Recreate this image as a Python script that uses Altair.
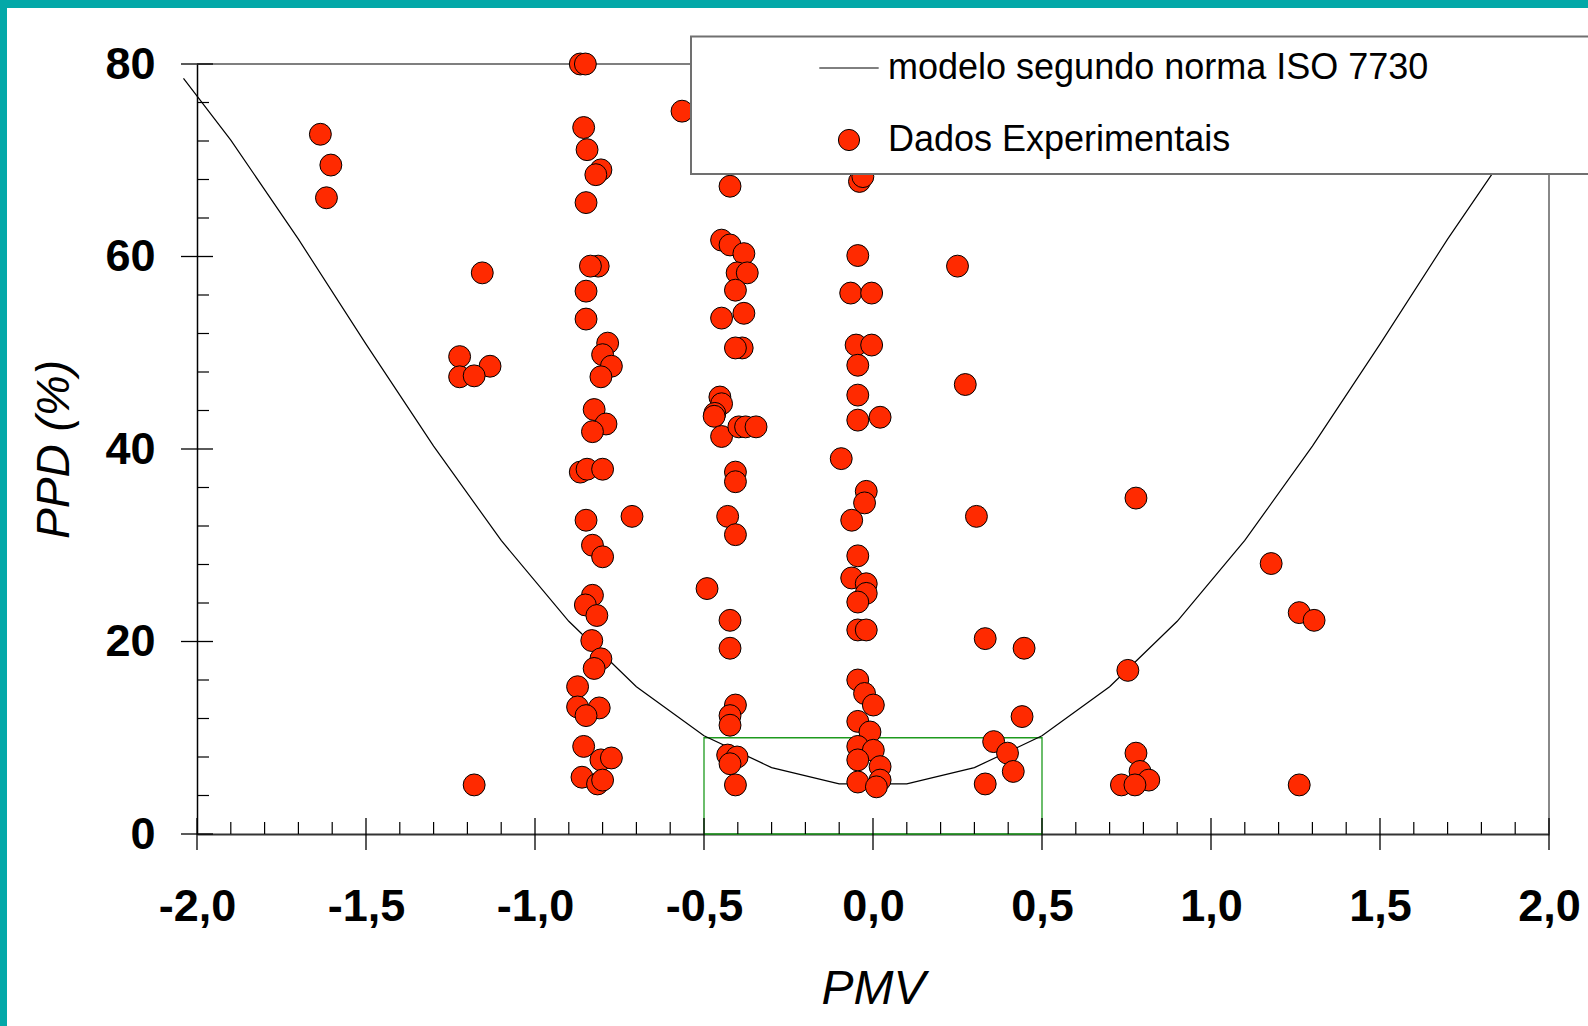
import altair as alt
import pandas as pd

# ---------------- data ----------------
SERIE_MODELO = "modelo segundo norma ISO 7730"
SERIE_DADOS = "Dados Experimentais"

pmv_exp = [
    -1.635, -1.604, -1.617, -1.156, -1.223, -1.133, -1.223, -1.180, -1.180,
    -0.866, -0.851, -0.856, -0.846, -0.805, -0.820, -0.849, -0.813, -0.836,
    -0.849, -0.849, -0.785, -0.800, -0.774, -0.805, -0.825, -0.790, -0.830,
    -0.866, -0.846, -0.800, -0.849, -0.830, -0.800, -0.830, -0.851, -0.817,
    -0.832, -0.805, -0.825, -0.874, -0.874, -0.810, -0.849, -0.856, -0.805,
    -0.774, -0.861, -0.815, -0.800,
    -0.713,
    -0.565, -0.423, -0.448, -0.423, -0.382, -0.402, -0.372, -0.407, -0.448,
    -0.382, -0.387, -0.407, -0.453, -0.448, -0.468, -0.470, -0.448, -0.397,
    -0.377, -0.346, -0.407, -0.407, -0.491, -0.430, -0.407, -0.423, -0.423,
    -0.407, -0.423, -0.423, -0.430, -0.402, -0.423, -0.407,
    -0.040, -0.030, -0.045, -0.066, -0.004, -0.050, -0.004, -0.045, -0.045,
    -0.045, 0.021, -0.094, -0.020, -0.025, -0.063, -0.045, -0.063, -0.020,
    -0.020, -0.045, -0.045, -0.020, -0.045, -0.025, 0.001, -0.045, -0.009,
    -0.045, 0.001, -0.045, 0.021, -0.045, 0.021, 0.010,
    0.250, 0.273, 0.306, 0.332, 0.447, 0.441, 0.357, 0.398, 0.415, 0.332,
    0.778, 1.178, 1.261, 1.305, 0.754, 0.778, 0.790, 0.816, 0.735, 0.775, 1.261,
]
ppd_exp = [
    72.7, 69.5, 66.1, 58.3, 49.6, 48.6, 47.5, 47.6, 5.1,
    80.0, 80.0, 73.4, 71.1, 69.0, 68.5, 65.6, 59.0, 59.0,
    56.4, 53.5, 51.0, 49.8, 48.6, 47.5, 44.1, 42.6, 41.8,
    37.6, 37.9, 37.9, 32.6, 30.0, 28.8, 24.8, 23.8, 22.7,
    20.1, 18.2, 17.2, 15.3, 13.2, 13.1, 12.3, 9.1, 7.7,
    7.9, 5.9, 5.2, 5.6,
    33.0,
    75.1, 67.3, 61.7, 61.2, 60.3, 58.3, 58.3, 56.5, 53.6,
    54.1, 50.5, 50.5, 45.4, 44.7, 43.7, 43.4, 41.3, 42.3,
    42.3, 42.3, 37.6, 36.6, 25.5, 33.0, 31.1, 22.2, 19.3,
    13.4, 12.3, 11.3, 8.2, 8.0, 7.3, 5.1,
    67.8, 68.3, 60.1, 56.2, 56.2, 50.8, 50.8, 48.7, 45.6,
    43.0, 43.3, 39.0, 35.6, 34.4, 32.6, 28.9, 26.6, 26.0,
    25.0, 24.1, 21.2, 21.2, 16.0, 14.6, 13.4, 11.7, 10.6,
    9.1, 8.7, 7.7, 7.0, 5.4, 5.6, 4.9,
    59.0, 46.7, 33.0, 20.3, 19.3, 12.2, 9.6, 8.4, 6.5, 5.2,
    34.9, 28.1, 23.0, 22.2, 17.0, 8.4, 6.5, 5.6, 5.1, 5.1, 5.1,
]

curve_pmv = [-2.04, -1.9, -1.7, -1.5, -1.3, -1.1, -0.9, -0.7, -0.5, -0.3, -0.1,
             0.1, 0.3, 0.5, 0.7, 0.9, 1.1, 1.3, 1.5, 1.7, 1.9, 2.04]
curve_ppd = [78.5, 72.1, 61.8, 50.9, 40.3, 30.5, 22.1, 15.3, 10.2, 6.9, 5.2,
             5.2, 6.9, 10.2, 15.3, 22.1, 30.5, 40.3, 50.9, 61.8, 72.1, 78.5]

zona_pmv = [-0.5, 0.5]
zona_ppd = [0, 10]

x_major = [-2.0, -1.5, -1.0, -0.5, 0.0, 0.5, 1.0, 1.5, 2.0]
x_minor = [round(-2 + 0.1 * i, 1) for i in range(41) if i % 5 != 0]
y_major = [0, 20, 40, 60, 80]
y_minor = [v for v in range(4, 80, 4) if v % 20 != 0]

# ---------------- styling ----------------
W, H = 1352, 770
PAD = {"left": 197, "top": 64, "right": 39, "bottom": 192}
FONT = "Liberation Sans"
RED = "#FF2A00"
TEAL = "#03A8A8"

xs = alt.Scale(domain=[-2, 2], nice=False, zero=False)
ys = alt.Scale(domain=[0, 80], nice=False, zero=False)

x_axis = alt.Axis(
    values=x_major, title="PMV", ticks=False, grid=False,
    domainColor="#333333", domainWidth=2,
    labelFont=FONT, labelFontSize=45, labelFontWeight="bold", labelColor="black",
    labelBaseline="alphabetic", labelPadding=86, labelFlush=False, labelOverlap=False,
    labelExpr="(datum.value < 0 ? '-' : '') + replace(format(abs(datum.value), '.1f'), '.', ',')",
    titleFont=FONT, titleFontSize=48, titleFontStyle="italic", titleFontWeight="normal",
    titleColor="black", titleBaseline="alphabetic", titleY=169,
)
y_axis = alt.Axis(
    values=y_major, title="PPD (%)", ticks=False, grid=False,
    domainColor="black", domainWidth=1.5,
    labelFont=FONT, labelFontSize=45, labelFontWeight="bold", labelColor="black",
    labelPadding=42, labelBaseline="middle", labelFlush=False, labelOverlap=False,
    titleFont=FONT, titleFontSize=46, titleFontStyle="italic", titleFontWeight="normal",
    titleColor="black", titleBaseline="alphabetic", titleX=-129, titleY=385, titleAngle=270,
)


def X(field):
    return alt.X(field, scale=xs, axis=x_axis)


def Y(field):
    return alt.Y(field, scale=ys, axis=y_axis)


pts_df = pd.DataFrame({"pmv": pmv_exp, "ppd": ppd_exp, "serie": SERIE_DADOS})
curve_df = pd.DataFrame({"pmv": curve_pmv, "ppd": curve_ppd})
zona_df = pd.DataFrame({"pmv": [zona_pmv[0]], "pmv2": [zona_pmv[1]],
                        "ppd": [zona_ppd[0]], "ppd2": [zona_ppd[1]]})
one = pd.DataFrame({"k": [0]})

# decorative teal border of the slide
teal_top = alt.Chart(one).mark_rect(color=TEAL).encode(
    x=alt.value(-197), x2=alt.value(1391), y=alt.value(-64), y2=alt.value(-56))
teal_left = alt.Chart(one).mark_rect(color=TEAL).encode(
    x=alt.value(-197), x2=alt.value(-190), y=alt.value(-64), y2=alt.value(962))

# comfort zone rectangle
zona = alt.Chart(zona_df).mark_rect(fillOpacity=0, stroke="#1E9A1E", strokeWidth=1.3).encode(
    x=X("pmv:Q"), x2="pmv2", y=Y("ppd:Q"), y2="ppd2")

# frame lines (top and right)
top_line = alt.Chart(pd.DataFrame({"pmv": [-2.0], "pmv2": [2.0], "ppd": [80]})).mark_rule(
    color="#555555", strokeWidth=1.5).encode(x=X("pmv:Q"), x2="pmv2", y=Y("ppd:Q"))
right_line = alt.Chart(pd.DataFrame({"pmv": [2.0], "ppd": [0], "ppd2": [80]})).mark_rule(
    color="#888888", strokeWidth=2).encode(x=X("pmv:Q"), y=Y("ppd:Q"), y2="ppd2")

# ISO 7730 model curve
curve = alt.Chart(curve_df).mark_line(color="black", strokeWidth=1.2).encode(
    x=X("pmv:Q"), y=Y("ppd:Q"))

leg = alt.Legend(
    title=None, orient="none", legendX=634, legendY=-14, padding=0,
    labelFont=FONT, labelFontSize=36, labelColor="black", labelOffset=21, labelLimit=900,
    symbolSize=450, symbolStrokeColor="black", symbolStrokeWidth=1, rowPadding=36,
)
points = alt.Chart(pts_df).mark_point(
    filled=True, size=480, stroke="black", strokeWidth=1, opacity=1).encode(
    x=X("pmv:Q"), y=Y("ppd:Q"),
    color=alt.Color("serie:N", scale=alt.Scale(domain=[SERIE_MODELO, SERIE_DADOS],
                                               range=["black", RED]), legend=leg),
    shape=alt.Shape("serie:N", scale=alt.Scale(domain=[SERIE_MODELO, SERIE_DADOS],
                                               range=["M-2.8,0H2.8", "circle"]), legend=leg),
)

# ticks crossing the axes (major) and inside only (minor)
tx_major = alt.Chart(pd.DataFrame({"pmv": x_major, "ppd": 0})).mark_tick(
    orient="vertical", size=32, thickness=1.3, color="black", opacity=1).encode(
    x=X("pmv:Q"), y=Y("ppd:Q"))
tx_minor = alt.Chart(pd.DataFrame({"pmv": x_minor, "ppd": 0})).mark_tick(
    orient="vertical", size=12, yOffset=-6, thickness=1.2, color="black", opacity=1).encode(
    x=X("pmv:Q"), y=Y("ppd:Q"))
ty_major = alt.Chart(pd.DataFrame({"ppd": y_major, "pmv": -2.0})).mark_tick(
    orient="horizontal", size=32, thickness=1.3, color="black", opacity=1).encode(
    x=X("pmv:Q"), y=Y("ppd:Q"))
ty_minor = alt.Chart(pd.DataFrame({"ppd": y_minor, "pmv": -2.0})).mark_tick(
    orient="horizontal", size=12, xOffset=6, thickness=1.2, color="black", opacity=1).encode(
    x=X("pmv:Q"), y=Y("ppd:Q"))

# opaque legend frame
legend_box = alt.Chart(one).mark_rect(fill="white", stroke="#707070", strokeWidth=2).encode(
    x=alt.value(494), x2=alt.value(1400), y=alt.value(-27.5), y2=alt.value(110))

chart = alt.layer(
    zona, teal_top, teal_left, top_line, right_line, curve, points,
    tx_major, tx_minor, ty_major, ty_minor, legend_box,
).properties(
    width=W, height=H, padding=PAD, background="white",
    autosize=alt.AutoSizeParams(type="none"),
).configure_view(strokeWidth=0)

chart.save("out.html", embed_options={"renderer": "svg", "actions": False})
